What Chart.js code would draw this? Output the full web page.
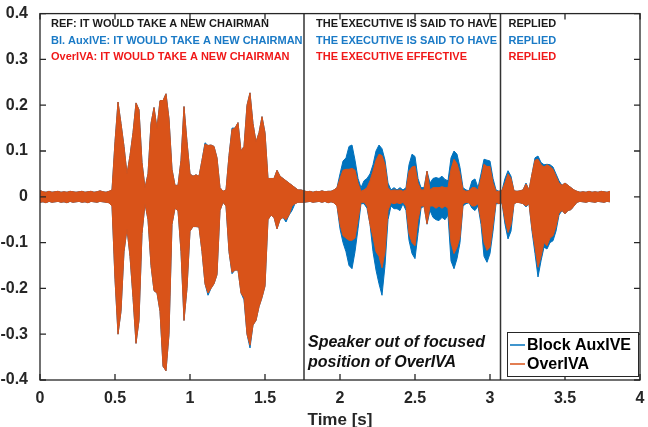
<!DOCTYPE html>
<html>
<head>
<meta charset="utf-8">
<script src="https://cdn.jsdelivr.net/npm/chart.js@4/dist/chart.umd.min.js"></script>
<style>
  body { margin: 0; background: #fff; }
</style>
</head>
<body>
<canvas id="wave" width="648" height="427"></canvas>
<script>
// envelope of the waveforms, one value every STEP seconds (upper / lower peak)
const STEP = 0.02;

const overUpper = [
  0.014,0.011,0.010,0.012,0.010,0.011,0.012,0.010,0.011,0.010,
  0.012,0.011,0.010,0.011,0.012,0.010,0.011,0.012,0.010,0.011,
  0.013,0.011,0.010,0.012,0.015,0.12,0.207,0.16,0.11,0.05,
  0.09,0.14,0.205,0.19,0.075,0.02,0.05,0.16,0.195,0.15,
  0.21,0.21,0.225,0.17,0.06,0.025,0.025,0.08,0.197,0.12,
  0.05,0.045,0.048,0.045,0.08,0.115,0.112,0.113,0.11,0.085,
  0.02,0.012,0.015,0.09,0.147,0.15,0.162,0.10,0.11,0.20,
  0.227,0.16,0.12,0.14,0.175,0.14,0.04,0.04,0.04,0.058,
  0.045,0.04,0.035,0.03,0.025,0.02,0.015,0.015,0.013,0.011,
  0.012,0.010,0.012,0.011,0.013,0.011,0.012,0.012,0.015,0.02,
  0.04,0.058,0.06,0.06,0.062,0.058,0.03,0.012,0.015,0.02,
  0.035,0.056,0.08,0.093,0.09,0.07,0.02,0.013,0.015,0.014,
  0.015,0.012,0.015,0.056,0.065,0.067,0.03,0.015,0.015,0.056,
  0.015,0.02,0.02,0.02,0.022,0.02,0.02,0.06,0.082,0.072,
  0.05,0.015,0.012,0.013,0.02,0.02,0.015,0.04,0.071,0.066,
  0.066,0.03,0.012,0.012,0.014,0.03,0.05,0.04,0.013,0.012,
  0.013,0.015,0.028,0.015,0.05,0.08,0.082,0.07,0.065,0.07,
  0.066,0.06,0.045,0.03,0.025,0.03,0.025,0.02,0.015,0.012,
  0.010,0.011,0.010,0.012,0.010,0.011,0.010,0.012,0.011,0.010,0.012
];
const overLower = [
  -0.012,-0.011,-0.013,-0.010,-0.012,-0.011,-0.010,-0.012,-0.011,-0.013,
  -0.010,-0.012,-0.011,-0.010,-0.012,-0.011,-0.013,-0.010,-0.011,-0.012,
  -0.010,-0.011,-0.012,-0.013,-0.02,-0.18,-0.30,-0.25,-0.12,-0.07,
  -0.13,-0.22,-0.32,-0.27,-0.08,-0.015,-0.05,-0.15,-0.205,-0.21,
  -0.25,-0.37,-0.38,-0.30,-0.06,-0.025,-0.03,-0.12,-0.27,-0.2,
  -0.075,-0.065,-0.065,-0.066,-0.12,-0.19,-0.21,-0.2,-0.19,-0.17,
  -0.03,-0.012,-0.02,-0.12,-0.165,-0.16,-0.16,-0.21,-0.22,-0.30,
  -0.324,-0.28,-0.27,-0.24,-0.22,-0.195,-0.05,-0.04,-0.045,-0.07,
  -0.05,-0.045,-0.05,-0.04,-0.02,-0.015,-0.012,-0.012,-0.012,-0.011,
  -0.010,-0.012,-0.011,-0.010,-0.012,-0.010,-0.013,-0.011,-0.013,-0.02,
  -0.06,-0.085,-0.09,-0.095,-0.095,-0.09,-0.05,-0.012,-0.012,-0.02,
  -0.06,-0.088,-0.12,-0.13,-0.155,-0.12,-0.03,-0.013,-0.015,-0.013,
  -0.015,-0.012,-0.02,-0.08,-0.10,-0.107,-0.05,-0.02,-0.02,-0.059,
  -0.02,-0.02,-0.025,-0.02,-0.025,-0.02,-0.025,-0.10,-0.124,-0.11,
  -0.088,-0.015,-0.012,-0.013,-0.02,-0.02,-0.015,-0.05,-0.10,-0.117,
  -0.11,-0.06,-0.012,-0.015,-0.013,-0.05,-0.078,-0.06,-0.015,-0.012,
  -0.013,-0.015,-0.02,-0.015,-0.07,-0.11,-0.154,-0.13,-0.10,-0.107,
  -0.09,-0.085,-0.065,-0.035,-0.03,-0.037,-0.03,-0.028,-0.02,-0.012,
  -0.010,-0.011,-0.012,-0.010,-0.011,-0.012,-0.010,-0.011,-0.012,-0.010,-0.011
];
const auxUpper = [
  0.014,0.011,0.010,0.012,0.010,0.011,0.012,0.010,0.011,0.010,
  0.012,0.011,0.010,0.011,0.012,0.010,0.011,0.012,0.010,0.011,
  0.013,0.011,0.010,0.012,0.015,0.12,0.207,0.16,0.11,0.05,
  0.09,0.14,0.205,0.19,0.075,0.02,0.05,0.16,0.195,0.15,
  0.21,0.21,0.225,0.17,0.06,0.025,0.025,0.08,0.197,0.12,
  0.05,0.045,0.048,0.045,0.08,0.118,0.112,0.113,0.11,0.085,
  0.02,0.012,0.015,0.09,0.15,0.15,0.162,0.10,0.11,0.20,
  0.227,0.16,0.12,0.14,0.175,0.14,0.04,0.04,0.04,0.058,
  0.045,0.04,0.035,0.03,0.025,0.02,0.015,0.015,0.013,0.011,
  0.012,0.010,0.012,0.011,0.013,0.011,0.012,0.012,0.015,0.02,
  0.05,0.078,0.085,0.11,0.113,0.08,0.04,0.02,0.035,0.04,
  0.05,0.07,0.10,0.113,0.105,0.08,0.03,0.015,0.02,0.015,
  0.02,0.015,0.02,0.07,0.093,0.088,0.04,0.02,0.02,0.056,
  0.03,0.04,0.042,0.04,0.045,0.038,0.035,0.085,0.10,0.093,
  0.064,0.02,0.015,0.013,0.035,0.039,0.02,0.05,0.082,0.08,
  0.078,0.04,0.015,0.012,0.014,0.04,0.057,0.045,0.013,0.012,
  0.013,0.015,0.03,0.015,0.05,0.085,0.089,0.075,0.07,0.071,
  0.07,0.065,0.05,0.035,0.025,0.03,0.025,0.02,0.015,0.012,
  0.010,0.011,0.010,0.012,0.010,0.011,0.010,0.012,0.011,0.010,0.012
];
const auxLower = [
  -0.012,-0.011,-0.013,-0.010,-0.012,-0.011,-0.010,-0.012,-0.011,-0.013,
  -0.010,-0.012,-0.011,-0.010,-0.012,-0.011,-0.013,-0.010,-0.011,-0.012,
  -0.010,-0.011,-0.012,-0.013,-0.02,-0.18,-0.30,-0.25,-0.12,-0.07,
  -0.13,-0.22,-0.32,-0.27,-0.08,-0.015,-0.05,-0.15,-0.205,-0.21,
  -0.25,-0.37,-0.38,-0.30,-0.06,-0.025,-0.03,-0.12,-0.27,-0.2,
  -0.075,-0.065,-0.065,-0.066,-0.12,-0.19,-0.215,-0.2,-0.19,-0.17,
  -0.03,-0.012,-0.02,-0.12,-0.168,-0.16,-0.16,-0.21,-0.225,-0.30,
  -0.33,-0.28,-0.27,-0.24,-0.22,-0.195,-0.05,-0.04,-0.045,-0.07,
  -0.05,-0.045,-0.055,-0.04,-0.03,-0.015,-0.012,-0.012,-0.012,-0.011,
  -0.010,-0.012,-0.011,-0.010,-0.012,-0.010,-0.013,-0.011,-0.013,-0.02,
  -0.07,-0.10,-0.12,-0.15,-0.157,-0.12,-0.07,-0.015,-0.015,-0.025,
  -0.06,-0.12,-0.16,-0.19,-0.215,-0.15,-0.05,-0.02,-0.026,-0.026,
  -0.03,-0.015,-0.03,-0.095,-0.124,-0.135,-0.08,-0.025,-0.02,-0.06,
  -0.03,-0.045,-0.05,-0.052,-0.045,-0.05,-0.04,-0.14,-0.157,-0.135,
  -0.10,-0.02,-0.015,-0.013,-0.025,-0.03,-0.02,-0.06,-0.13,-0.143,
  -0.124,-0.075,-0.015,-0.015,-0.013,-0.06,-0.092,-0.075,-0.015,-0.012,
  -0.013,-0.015,-0.022,-0.015,-0.075,-0.124,-0.175,-0.14,-0.11,-0.114,
  -0.10,-0.096,-0.075,-0.04,-0.03,-0.037,-0.03,-0.028,-0.02,-0.012,
  -0.010,-0.011,-0.012,-0.010,-0.011,-0.012,-0.010,-0.011,-0.012,-0.010,-0.011
];

const xTickLabels = ['0', '0.5', '1', '1.5', '2', '2.5', '3', '3.5', '4'];
const yTickLabels = ['-0.4', '-0.3', '-0.2', '-0.1', '0', '0.1', '0.2', '0.3', '0.4'];

// word boundaries (s)
const boundaries = [1.76, 3.07];

const refText = ['REF: IT WOULD TAKE A NEW CHAIRMAN', 'THE EXECUTIVE IS SAID TO HAVE', 'REPLIED'];
const auxText = ['Bl. AuxIVE: IT WOULD TAKE A NEW CHAIRMAN', 'THE EXECUTIVE IS SAID TO HAVE', 'REPLIED'];
const overText = ['OverIVA: IT WOULD TAKE A NEW CHAIRMAN', 'THE EXECUTIVE EFFECTIVE', 'REPLIED'];
const noteText = ['Speaker out of focused', 'position of OverIVA'];
const legendNames = ['Block AuxIVE', 'OverIVA'];

const BLUE = '#0072BD';
const ORANGE = '#D95319';
const AXIS = '#262626';
const FONT = "'Liberation Sans', Arial, sans-serif";

const times = overUpper.map((_, i) => Math.round(i * STEP * 100) / 100);
const toPoints = arr => arr.map((v, i) => ({ x: times[i], y: v }));

function envelope(data, color, fill, order) {
  return {
    data: toPoints(data),
    borderColor: color,
    backgroundColor: color,
    borderWidth: 1,
    pointRadius: 0,
    tension: 0,
    fill: fill,
    order: order
  };
}

const decorations = {
  id: 'decorations',
  afterDatasetsDraw(chart) {
    const ctx = chart.ctx;
    const a = chart.chartArea;
    const xs = chart.scales.x, ys = chart.scales.y;
    ctx.save();

    // word boundaries
    ctx.strokeStyle = '#333';
    ctx.lineWidth = 1.5;
    boundaries.forEach(t => {
      const px = xs.getPixelForValue(t);
      ctx.beginPath();
      ctx.moveTo(px, a.top);
      ctx.lineTo(px, a.bottom);
      ctx.stroke();
    });

    // box + inward ticks
    ctx.strokeStyle = AXIS;
    ctx.lineWidth = 1.3;
    ctx.strokeRect(a.left, a.top, a.right - a.left, a.bottom - a.top);
    const tl = 6;
    ctx.beginPath();
    xs.ticks.forEach(tk => {
      const px = xs.getPixelForValue(tk.value);
      ctx.moveTo(px, a.bottom); ctx.lineTo(px, a.bottom - tl);
      ctx.moveTo(px, a.top); ctx.lineTo(px, a.top + tl);
    });
    ys.ticks.forEach(tk => {
      const py = ys.getPixelForValue(tk.value);
      ctx.moveTo(a.left, py); ctx.lineTo(a.left + tl, py);
      ctx.moveTo(a.right, py); ctx.lineTo(a.right - tl, py);
    });
    ctx.stroke();

    // transcripts
    ctx.font = 'bold 11px ' + FONT;
    ctx.textBaseline = 'middle';
    ctx.textAlign = 'left';
    const cols = [a.left + 11, xs.getPixelForValue(boundaries[0]) + 12, xs.getPixelForValue(boundaries[1]) + 8];
    const rows = [[refText, '#1a1a1a', 24], [auxText, '#1a7ac6', 41], [overText, '#f01818', 57]];
    rows.forEach(([texts, color, y]) => {
      ctx.fillStyle = color;
      texts.forEach((t, i) => ctx.fillText(t, cols[i], y));
    });

    // note
    ctx.font = 'italic bold 16px ' + FONT;
    ctx.fillStyle = '#111';
    ctx.fillText(noteText[0], 308, 343);
    ctx.fillText(noteText[1], 308, 363);

    // legend
    ctx.fillStyle = '#fff';
    ctx.fillRect(507, 332, 131, 44);
    ctx.strokeStyle = AXIS;
    ctx.lineWidth = 1;
    ctx.strokeRect(507.5, 332.5, 131, 44);
    ctx.font = 'bold 16px ' + FONT;
    [[BLUE, 345], [ORANGE, 364]].forEach(([c, y], i) => {
      ctx.strokeStyle = c;
      ctx.lineWidth = 1.5;
      ctx.beginPath();
      ctx.moveTo(510, y); ctx.lineTo(525, y);
      ctx.stroke();
      ctx.fillStyle = '#000';
      ctx.fillText(legendNames[i], 527, y + 1);
    });

    ctx.restore();
  }
};

new Chart(document.getElementById('wave'), {
  type: 'line',
  data: {
    datasets: [
      envelope(auxUpper, BLUE, '+1', 2),
      envelope(auxLower, BLUE, false, 2),
      envelope(overUpper, ORANGE, '+1', 1),
      envelope(overLower, ORANGE, false, 1)
    ]
  },
  options: {
    responsive: false,
    animation: false,
    devicePixelRatio: 1,
    layout: { padding: { top: 12, right: 8, left: 0, bottom: 0 } },
    plugins: {
      legend: { display: false },
      tooltip: { enabled: false }
    },
    scales: {
      x: {
        type: 'linear',
        min: 0,
        max: 4,
        grid: { display: false },
        border: { display: false },
        ticks: {
          stepSize: 0.5,
          padding: 1,
          color: AXIS,
          font: { family: FONT, size: 16, weight: 'bold' },
          callback: (v, i) => xTickLabels[i]
        },
        title: {
          display: true,
          text: 'Time [s]',
          color: AXIS,
          font: { family: FONT, size: 17, weight: 'bold' },
          padding: { top: 0, bottom: -4 }
        },
        afterFit: s => { s.height = 47; }
      },
      y: {
        min: -0.4,
        max: 0.4,
        grid: { display: false },
        border: { display: false },
        ticks: {
          stepSize: 0.1,
          padding: 4,
          color: AXIS,
          font: { family: FONT, size: 16, weight: 'bold' },
          callback: (v, i) => yTickLabels[i]
        },
        afterFit: s => { s.width = 40; }
      }
    }
  },
  plugins: [decorations]
});
</script>
</body>
</html>
